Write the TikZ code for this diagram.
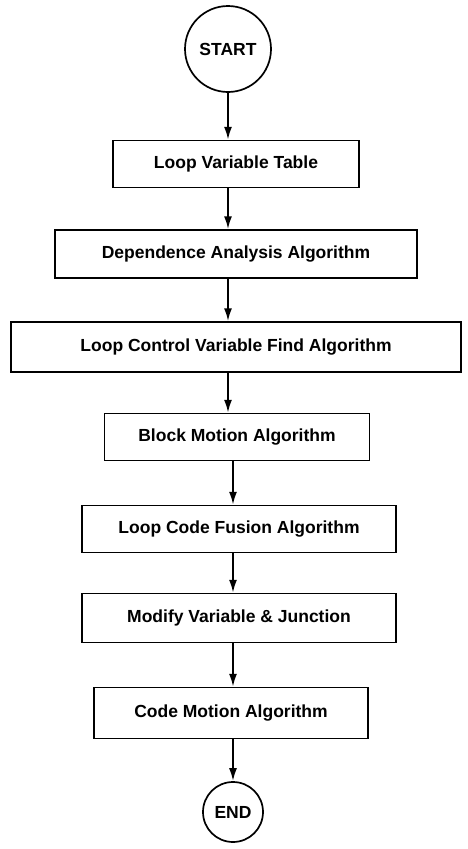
\documentclass[tikz,border=0pt]{standalone}
\usepackage{fontspec}
\setmainfont{Liberation Sans}
\usepackage{tikz}
\usetikzlibrary{arrows.meta}

\begin{document}
\begin{tikzpicture}[x=1pt, y=-1pt,
    stepbox/.style={draw, line width=1.4pt, minimum height=47pt, inner sep=0pt,
        font=\bfseries\fontsize{17.5}{19}\selectfont},
    terminal/.style={draw, circle, line width=1.7pt, inner sep=0pt,
        font=\bfseries\fontsize{17.5}{19}\selectfont},
    flow/.style={line width=2pt, -{Latex[length=13pt, width=8pt]}}]
    \useasboundingbox (0,0) rectangle (467,849);

    % Terminals
    \node[terminal, minimum size=86pt] (start) at (228,49) {START};
    \node[terminal, minimum size=60pt] (end) at (233,812) {END};

    % Steps
    \node[stepbox, minimum width=246pt] (table) at (236,164) {Loop Variable Table};
    \node[stepbox, minimum width=362pt, minimum height=48pt] (depend) at (236,254) {Dependence Analysis Algorithm};
    \node[stepbox, minimum width=450pt, minimum height=50pt] (control) at (236,347) {Loop Control Variable Find Algorithm};
    \node[stepbox, minimum width=265pt] (block) at (237,437) {Block Motion Algorithm};
    \node[stepbox, minimum width=314pt] (fusion) at (239,529) {Loop Code Fusion Algorithm};
    \node[stepbox, minimum width=314pt, minimum height=49pt] (modify) at (239,618) {Modify Variable \& Junction};
    \node[stepbox, minimum width=274pt, minimum height=51pt] (motion) at (231,713) {Code Motion Algorithm};

    % Flow
    \draw[flow] (start) -- (start |- table.north);
    \draw[flow] (table.south -| start) -- (depend.north -| start);
    \draw[flow] (depend.south -| start) -- (control.north -| start);
    \draw[flow] (control.south -| start) -- (block.north -| start);
    \draw[flow] (block.south -| end) -- (fusion.north -| end);
    \draw[flow] (fusion.south -| end) -- (modify.north -| end);
    \draw[flow] (modify.south -| end) -- (motion.north -| end);
    \draw[flow] (motion.south -| end) -- (end);
\end{tikzpicture}
\end{document}
